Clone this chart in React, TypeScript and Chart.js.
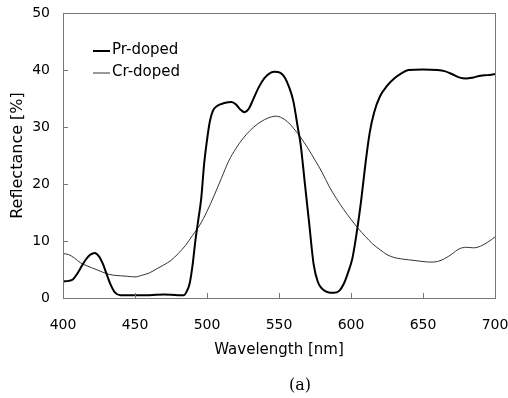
import React, { useEffect, useRef } from "react";
import { Chart, registerables } from "chart.js";

Chart.register(...registerables);

const prWavelength = [400, 404, 407, 410, 413, 416, 419, 422, 425, 428, 430, 433, 436, 440, 450, 460, 470, 480, 484, 486, 488, 490, 492, 494, 496, 498, 500, 502, 504, 507, 512, 517, 520, 523, 526, 529, 532, 536, 540, 544, 547, 551, 554, 557, 560, 563, 565, 568, 571, 574, 577, 580, 584, 588, 592, 595, 598, 601, 604, 607, 610, 613, 616, 620, 625, 630, 635, 640, 650, 660, 665, 670, 675, 680, 685, 690, 695, 700];
const prReflectance = [2.9, 3.0, 3.3, 4.3, 5.6, 6.8, 7.6, 7.9, 7.3, 5.8, 4.4, 2.4, 1.0, 0.5, 0.5, 0.5, 0.6, 0.5, 0.5, 1.2, 2.6, 5.8, 10.2, 13.8, 17.5, 23.5, 27.7, 31.0, 32.8, 33.7, 34.2, 34.4, 34.0, 33.1, 32.6, 33.2, 34.8, 37.0, 38.6, 39.5, 39.7, 39.5, 38.7, 37.0, 34.5, 30.0, 27.0, 20.0, 13.0, 6.0, 2.8, 1.6, 1.0, 0.9, 1.3, 2.5, 4.5, 7.0, 11.5, 17.0, 23.5, 29.0, 32.5, 35.3, 37.2, 38.5, 39.4, 40.0, 40.1, 40.0, 39.8, 39.3, 38.7, 38.5, 38.7, 39.0, 39.1, 39.3];

const crWavelength = [400, 404, 408, 412, 416, 420, 425, 430, 435, 440, 445, 450, 455, 460, 465, 470, 475, 480, 485, 490, 495, 500, 505, 510, 515, 520, 525, 530, 535, 540, 545, 548, 552, 556, 560, 565, 570, 575, 580, 585, 590, 595, 600, 605, 610, 615, 620, 625, 630, 640, 650, 655, 660, 665, 670, 675, 680, 685, 690, 695, 700];
const crReflectance = [7.8, 7.6, 7.0, 6.2, 5.7, 5.3, 4.8, 4.3, 4.0, 3.9, 3.8, 3.7, 4.0, 4.4, 5.1, 5.8, 6.6, 7.8, 9.2, 11.0, 12.8, 15.2, 18.0, 21.0, 24.0, 26.2, 28.0, 29.4, 30.5, 31.3, 31.8, 31.9, 31.6, 30.9, 29.8, 28.2, 26.3, 24.2, 22.0, 19.5, 17.4, 15.5, 13.8, 12.2, 10.8, 9.5, 8.5, 7.6, 7.1, 6.7, 6.4, 6.3, 6.4, 6.9, 7.7, 8.6, 8.9, 8.8, 9.1, 9.8, 10.7];

const xTicks = [400, 450, 500, 550, 600, 650, 700];
const yTicks = [0, 10, 20, 30, 40, 50];
const seriesLabels = ["Pr-doped", "Cr-doped"];
const xTitle = "Wavelength [nm]";
const yTitle = "Reflectance [%]";
const caption = "(a)";

const FONT = "'DejaVu Sans', sans-serif";

const framePlugin = {
  id: "frame",
  afterDraw(chart: any) {
    const { ctx, chartArea } = chart;
    const { left, right, top, bottom } = chartArea;
    ctx.save();
    ctx.strokeStyle = "#777";
    ctx.lineWidth = 1;
    ctx.strokeRect(left + 0.5, top + 0.5, right - left, bottom - top);
    ctx.beginPath();
    const xs = chart.scales.x;
    const ys = chart.scales.y;
    xTicks.forEach((v) => {
      const px = Math.round(xs.getPixelForValue(v)) + 0.5;
      ctx.moveTo(px, bottom);
      ctx.lineTo(px, bottom - 5);
    });
    yTicks.forEach((v) => {
      const py = Math.round(ys.getPixelForValue(v)) + 0.5;
      ctx.moveTo(left, py);
      ctx.lineTo(left + 5, py);
    });
    ctx.stroke();
    const ds = chart.data.datasets;
    const rows = [50, 72];
    ds.forEach((d: any, i: number) => {
      const y = rows[i];
      ctx.beginPath();
      ctx.strokeStyle = d.borderColor;
      ctx.lineWidth = d.borderWidth;
      ctx.moveTo(93, y + 1);
      ctx.lineTo(110, y + 1);
      ctx.stroke();
      ctx.fillStyle = "#000";
      ctx.font = "15px " + FONT;
      ctx.textAlign = "left";
      ctx.textBaseline = "middle";
      ctx.fillText(d.label, 112, y);
    });
    ctx.fillStyle = "#000";
    ctx.font = "16px 'DejaVu Serif', serif";
    ctx.textAlign = "center";
    ctx.textBaseline = "middle";
    ctx.fillText(caption, 300, 386);
    ctx.restore();
  },
};

export default function App() {
  const ref = useRef<HTMLCanvasElement>(null);
  useEffect(() => {
    if (!ref.current) return;
    const chart = new Chart(ref.current, {
      type: "line",
      data: {
        datasets: [
          {
            label: seriesLabels[0],
            data: prWavelength.map((x, i) => ({ x, y: prReflectance[i] })),
            borderColor: "#000",
            borderWidth: 2,
            pointRadius: 0,
            cubicInterpolationMode: "monotone",
            fill: false,
          },
          {
            label: seriesLabels[1],
            data: crWavelength.map((x, i) => ({ x, y: crReflectance[i] })),
            borderColor: "#333",
            borderWidth: 1,
            pointRadius: 0,
            cubicInterpolationMode: "monotone",
            fill: false,
          },
        ],
      },
      options: {
        animation: false,
        responsive: false,
        maintainAspectRatio: false,
        layout: { padding: { left: 0, right: 13, top: 13, bottom: 0 } },
        plugins: { legend: { display: false }, tooltip: { enabled: false } },
        scales: {
          x: {
            type: "linear",
            min: 400,
            max: 700,
            afterFit: (s: any) => {
              s.height = 100;
              s.paddingLeft = 0;
              s.paddingRight = 0;
            },
            afterBuildTicks: (s: any) => {
              s.ticks = xTicks.map((v) => ({ value: v }));
            },
            grid: { display: false, drawTicks: false },
            border: { display: false },
            ticks: { padding: 19, color: "#000", font: { family: FONT, size: 14 } },
            title: {
              display: true,
              text: xTitle,
              color: "#000",
              font: { family: FONT, size: 15 },
              padding: { top: 0, bottom: 39 },
            },
          },
          y: {
            type: "linear",
            min: 0,
            max: 50,
            afterFit: (s: any) => {
              s.width = 63;
              s.paddingTop = 0;
              s.paddingBottom = 0;
            },
            afterBuildTicks: (s: any) => {
              s.ticks = yTicks.map((v) => ({ value: v }));
            },
            grid: { display: false, drawTicks: false },
            border: { display: false },
            ticks: { padding: 13, color: "#000", font: { family: FONT, size: 14 } },
            title: {
              display: true,
              text: yTitle,
              color: "#000",
              font: { family: FONT, size: 16 },
              padding: { top: 8, bottom: 0 },
            },
          },
        },
      },
      plugins: [framePlugin],
    });
    return () => chart.destroy();
  }, []);
  return (
    <div style={{ position: "fixed", left: 0, top: 0, width: 508, height: 398, background: "#fff" }}>
      <canvas ref={ref} width={508} height={398} style={{ width: 508, height: 398 }} />
    </div>
  );
}
